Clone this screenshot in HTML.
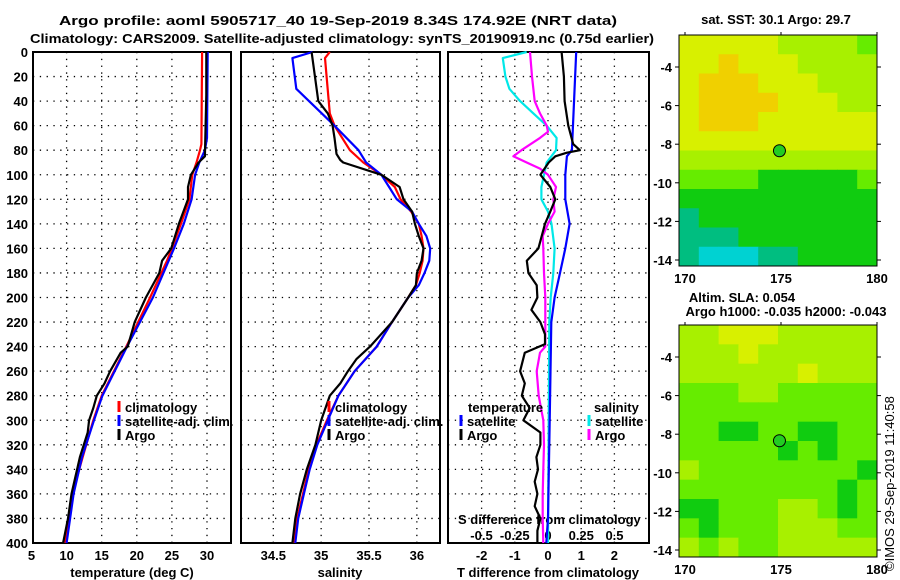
<!DOCTYPE html>
<html><head><meta charset="utf-8"><style>
html,body{margin:0;padding:0;background:#fff}
svg{display:block}
text{font-family:"Liberation Sans",sans-serif;font-weight:bold;font-size:13px;fill:#000}
</style></head><body>
<svg id="c" width="900" height="580" viewBox="0 0 900 580" xmlns="http://www.w3.org/2000/svg">
<text x="338" y="25" text-anchor="middle" font-size="14" textLength="558" lengthAdjust="spacingAndGlyphs">Argo profile: aoml 5905717_40 19-Sep-2019 8.34S 174.92E (NRT data)</text>
<text x="342" y="43" text-anchor="middle" font-size="14" textLength="624" lengthAdjust="spacingAndGlyphs">Climatology: CARS2009. Satellite-adjusted climatology: synTS_20190919.nc (0.75d earlier)</text>
<text x="776" y="24" text-anchor="middle" font-size="12">sat. SST: 30.1 Argo: 29.7</text>
<text x="742" y="302" text-anchor="middle" font-size="12">Altim. SLA: 0.054</text>
<text x="786" y="316" text-anchor="middle" font-size="12">Argo h1000: -0.035 h2000: -0.043</text>
<text x="0" y="0" transform="translate(894,571) rotate(-90)" style="font-weight:normal" font-size="13">©IMOS 29-Sep-2019 11:40:58</text>
<g id="g"></g>
</svg>
<script>
// ---- depth axis ----
const depthTicks=[0,20,40,60,80,100,120,140,160,180,200,220,240,260,280,300,320,340,360,380,400];
// ---- panel 1: temperature ----
const tTicks=[5,10,15,20,25,30];
const climTDepth=[0,75,80,90,100,120,140,160,170,200,240,280,300,330,360,400];
const climT=[29.3,29.2,29.0,28.5,27.9,27.5,26.3,25.0,24.3,21.9,18.5,15.0,13.8,12.3,10.8,9.8];
const satTDepth=[0,70,80,90,100,120,140,160,200,240,280,300,330,360,400];
const satT=[30.1,30.0,29.7,28.9,28.3,27.8,26.7,25.3,22.3,18.6,15.1,13.9,12.2,11.0,10.0];
const argoTDepth=[0,35,85,90,100,110,120,140,160,170,180,200,220,240,245,260,270,280,290,300,310,330,340,360,380,400];
const argoT=[29.9,29.9,29.7,28.8,27.7,27.3,27.3,26.0,24.9,23.6,23.2,21.3,19.7,18.7,17.7,16.2,15.4,14.3,13.8,13.2,13.0,11.9,11.5,10.7,10.2,9.5];
// ---- panel 2: salinity ----
const sTicks=[34.5,35,35.5,36];
const climSDepth=[0,5,50,60,80,90,100,110,120,130,140,150,160,170,180,190,200,220,240,260,280,300,320,340,360,380,400];
const climS=[35.09,35.04,35.09,35.14,35.30,35.44,35.63,35.77,35.83,35.94,36.02,36.05,36.07,36.06,36.03,35.99,35.91,35.74,35.58,35.35,35.18,35.06,34.95,34.87,34.81,34.75,34.72];
const satSDepth=[0,5,30,60,80,90,100,110,120,130,140,150,160,170,180,190,200,220,240,260,280,300,320,340,360,380,400];
const satS=[34.91,34.70,34.74,35.14,35.39,35.47,35.63,35.71,35.79,35.95,36.02,36.10,36.14,36.13,36.08,36.02,35.91,35.74,35.58,35.35,35.18,35.07,34.96,34.88,34.82,34.76,34.73];
const argoSDepth=[0,40,50,60,70,83,88,90,100,110,120,130,140,150,160,170,180,190,200,220,240,250,260,270,280,300,320,340,360,380,400];
const argoS=[34.90,34.97,35.07,35.12,35.14,35.16,35.20,35.23,35.63,35.82,35.86,35.95,35.98,36.02,36.07,36.05,36.00,35.99,35.91,35.74,35.51,35.37,35.28,35.20,35.09,35.00,34.94,34.85,34.78,34.73,34.70];
// ---- panel 3: differences ----
const dTTicks=[-2,-1,0,1,2];
const dSTickVals=[-0.5,-0.25,0,0.25,0.5];
const dSTickLabels=["-0.5","-0.25","0","0.25","0.5"];
const satDTDepth=[0,80,85,100,120,140,160,180,200,220,300,380,400];
const satDT=[0.85,0.72,0.57,0.52,0.52,0.65,0.52,0.36,0.2,0.1,0.05,0.0,-0.05];
const argoDTDepth=[0,20,40,60,75,80,82,85,90,100,110,120,130,140,160,170,180,190,200,210,220,230,238,245,260,270,280,290,300,310,320,330,340,350,360,370,380,390,400];
const argoDT=[0.41,0.48,0.5,0.61,0.76,0.96,0.57,0.22,0.02,-0.23,0.07,0.22,0.07,-0.09,-0.29,-0.64,-0.59,-0.34,-0.32,-0.5,-0.23,-0.09,-0.09,-0.7,-0.84,-0.7,-0.79,-0.55,-0.74,-0.23,-0.23,-0.35,-0.3,-0.4,-0.32,-0.4,-0.23,-0.32,-0.32];
const satDSDepth=[0,5,20,30,40,50,60,70,80,90,100,110,120,130,140,160,180,200,220,400];
const satDS=[-0.16,-0.34,-0.32,-0.29,-0.21,-0.11,-0.01,0.065,0.06,-0.01,-0.03,-0.05,-0.05,0.0,0.026,0.05,0.04,0.02,0.01,0.0];
const argoDSDepth=[0,20,40,50,60,65,70,80,85,90,95,100,110,120,130,140,150,160,180,200,240,245,260,280,300,320,340,360,380,400];
const argoDS=[-0.135,-0.12,-0.1,-0.06,-0.01,0.0,-0.06,-0.2,-0.26,-0.16,-0.06,0.0,0.06,0.04,0.05,0.0,-0.04,-0.035,-0.03,-0.02,-0.02,-0.06,-0.085,-0.07,-0.035,-0.03,-0.035,-0.04,-0.04,-0.035];
// ---- maps ----
const lonTicks=[170,175,180];
const latTicks=[-4,-6,-8,-10,-12,-14];
const argoLon=174.92, argoLat=-8.34;
const sstGrid=[
[5,5,5,5,5,4,4,4,4,3],[5,5,6,5,5,5,4,4,4,4],[5,6,6,6,5,5,5,4,4,4],[5,6,6,6,6,5,5,5,4,4],
[5,6,6,6,5,5,5,5,5,5],[5,5,5,5,5,5,5,5,5,5],[4,4,4,4,4,4,4,4,4,4],[3,3,3,3,2,2,2,2,2,3],
[2,2,2,2,2,2,2,2,2,2],[1,2,2,2,2,2,2,2,2,2],[1,1,1,2,2,2,2,2,2,2],[1,0,0,0,1,1,2,2,2,2]];
const slaGrid=[
[4,4,5,5,5,4,4,4,4,4],[4,4,4,5,4,4,4,4,4,4],[4,4,4,4,4,4,5,4,4,4],[3,3,3,4,4,3,3,3,3,3],
[3,3,3,3,3,3,3,3,3,3],[3,3,2,2,3,3,2,2,3,3],[3,3,3,3,3,2,3,2,3,3],[4,3,3,3,3,3,3,3,3,2],
[3,3,3,3,3,3,3,3,2,3],[2,2,3,3,3,4,4,3,2,3],[3,2,3,3,3,4,4,4,3,3],[4,3,4,3,3,4,4,4,4,4]];
const palette=["#00d2d2","#00be80","#10cc10","#66ec00","#a8f000","#d8f000","#f0d000"];

const NS="http://www.w3.org/2000/svg";
const G=document.getElementById('g');
function mk(tag,attrs,parent){const e=document.createElementNS(NS,tag);for(const k in attrs)e.setAttribute(k,attrs[k]);(parent||G).appendChild(e);return e;}
const yD=d=>52+d*1.2275;
const xT=t=>31.5+(t-5)*7.02;
const xS=s=>273.3+(s-34.5)*95.7;
const xDT=v=>548+v*33.2;
const xDS=v=>548+v*133;
const panels=[[33,231],[241,440],[448,649]];

panels.forEach((p,i)=>{
  const vals=i===0?tTicks.slice(1):i===1?sTicks:dTTicks;
  const fx=i===0?xT:i===1?xS:xDT;
  depthTicks.slice(1,-1).forEach(d=>{
    const l=mk('line',{x1:p[0],x2:p[1],y1:yD(d),y2:yD(d),stroke:'#000','stroke-width':1.3,'stroke-dasharray':'1.3,5.5'});
    
    
  });
  vals.forEach(v=>{
    const l=mk('line',{x1:fx(v),x2:fx(v),y1:52,y2:543,stroke:'#000','stroke-width':1.3,'stroke-dasharray':'1.3,5.5'});
    
    
  });
  const r=mk('rect',{x:p[0],y:52,width:p[1]-p[0],height:491,fill:'none',stroke:'#000','stroke-width':2});
  
  
});
depthTicks.forEach(d=>{
  const t=mk('text',{x:28,y:yD(d)+5,'text-anchor':'end'});t.textContent=d;
  
  
});
tTicks.forEach(v=>{const t=mk('text',{x:xT(v),y:560,'text-anchor':'middle'});t.textContent=v;
  
  });
sTicks.forEach(v=>{const t=mk('text',{x:xS(v),y:560,'text-anchor':'middle'});t.textContent=v;
  
  });
dTTicks.forEach(v=>{const t=mk('text',{x:xDT(v),y:560,'text-anchor':'middle'});t.textContent=v;
  
  });
dSTickVals.forEach((v,i)=>{const t=mk('text',{x:xDS(v),y:540,'text-anchor':'middle'});t.textContent=dSTickLabels[i];
  
  });
[[132,'temperature (deg C)','temp-axis-title'],[340,'salinity','sal-axis-title'],[548,'T difference from climatology','tdiff-axis-title']].forEach(a=>{
  const t=mk('text',{x:a[0],y:577,'text-anchor':'middle'});t.textContent=a[1];
  
  
});
const sdt=mk('text',{x:458,y:524});sdt.textContent='S difference from climatology';



function line(depths,vals,fx,color,name,w){
  const pts=depths.map((d,i)=>fx(vals[i]).toFixed(1)+','+yD(d).toFixed(1)).join(' ');
  const p=mk('polyline',{points:pts,fill:'none',stroke:color,'stroke-width':w||2.2,'stroke-linejoin':'round'});
  
  
}
line(climTDepth,climT,xT,'#ff0000','clim-temp-line');
line(satTDepth,satT,xT,'#0000ff','sat-temp-line');
line(argoTDepth,argoT,xT,'#000000','argo-temp-line');
line(climSDepth,climS,xS,'#ff0000','clim-sal-line');
line(satSDepth,satS,xS,'#0000ff','sat-sal-line');
line(argoSDepth,argoS,xS,'#000000','argo-sal-line');
line(satDSDepth,satDS,xDS,'#00e8e8','sat-sdiff-line');
line(argoDSDepth,argoDS,xDS,'#ff00ff','argo-sdiff-line');
line(satDTDepth,satDT,xDT,'#0000ff','sat-tdiff-line');
line(argoDTDepth,argoDT,xDT,'#000000','argo-tdiff-line');

function legend(x,y,color,label,name){
  const m=mk('line',{x1:x,x2:x,y1:y-11,y2:y,stroke:color,'stroke-width':3});
  
  
  const t=mk('text',{x:x+6,y:y});t.textContent=label;
  
  
}
legend(119,412,'#ff0000','climatology','legend-climatology');
legend(119,426,'#0000ff','satellite-adj. clim.','legend-sat-adj');
legend(119,440,'#000000','Argo','legend-argo');
legend(329,412,'#ff0000','climatology','legend2-climatology');
legend(329,426,'#0000ff','satellite-adj. clim.','legend2-sat-adj');
legend(329,440,'#000000','Argo','legend2-argo');
const tl=mk('text',{x:468,y:412});tl.textContent='temperature';


legend(461,426,'#0000ff','satellite','legend-t-satellite');
legend(461,440,'#000000','Argo','legend-t-argo');
const sl=mk('text',{x:594,y:412});sl.textContent='salinity';


legend(589,426,'#00e8e8','satellite','legend-s-satellite');
legend(589,440,'#ff00ff','Argo','legend-s-argo');

function map(top,bottom,grid,yLat,name){
  const left=679,right=877;
  const xL=lon=>685+(lon-170)*19.2;
  const rows=grid.length,cols=grid[0].length;
  const cw=(right-left)/cols,ch=(bottom-top)/rows;
  grid.forEach((row,r)=>row.forEach((v,c)=>{
    const e=mk('rect',{x:left+c*cw,y:top+r*ch,width:cw+0.5,height:ch+0.5,fill:palette[v]});
    
    
  }));
  const f=mk('rect',{x:left,y:top,width:right-left,height:bottom-top,fill:'none',stroke:'#000','stroke-width':1});
  
  
  latTicks.forEach(l=>{
    const t=mk('text',{x:672,y:yLat(l)+5,'text-anchor':'end'});t.textContent=l;
    
    
    mk('line',{x1:left-4,x2:left,y1:yLat(l),y2:yLat(l),stroke:'#000'});
    mk('line',{x1:right,x2:right+4,y1:yLat(l),y2:yLat(l),stroke:'#000'});
  });
  lonTicks.forEach(l=>{
    const t=mk('text',{x:xL(l),y:bottom+17,'text-anchor':'middle'});t.textContent=l;
    
    
    mk('line',{x1:xL(l),x2:xL(l),y1:top-3,y2:top,stroke:'#000'});
  });
  const c=mk('circle',{cx:xL(argoLon),cy:yLat(argoLat),r:6,fill:'#22cc22',stroke:'#000','stroke-width':1});
  
  
}
map(35,266,sstGrid,l=>67+(-4-l)*19.3,'sst-map');
map(325,557,slaGrid,l=>357+(-4-l)*19.3,'sla-map');
</script>
</body></html>
